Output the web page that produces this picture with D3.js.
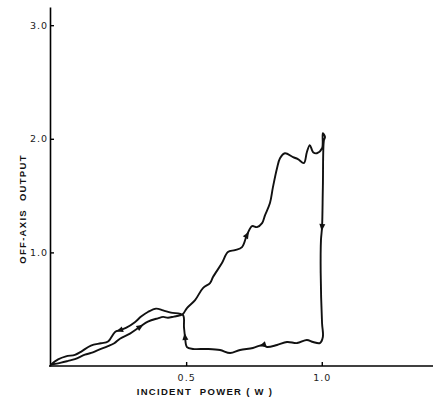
<!DOCTYPE html>
<html>
<head>
<meta charset="utf-8">
<script src="https://cdn.jsdelivr.net/npm/d3@7"></script>
<style>
  body { margin: 0; background: #fff; }
  svg { display: block; }
  .tick text { font-family: "DejaVu Sans", sans-serif; font-size: 9.5px; letter-spacing: 1px; fill: #222; }
  .axis-label { font-family: "Liberation Sans", Arial, sans-serif; font-weight: bold; font-size: 9.5px; letter-spacing: 1.3px; fill: #111; }
</style>
</head>
<body>
<div id="chart"></div>
<script>
// incident power (W) / off-axis output, traced along the hysteresis loop
const powerUp = [0, 0.039, 0.065, 0.090, 0.127, 0.150, 0.175, 0.212, 0.235, 0.256, 0.293, 0.330, 0.359, 0.396, 0.415, 0.433, 0.455, 0.477, 0.488];
const outputUp = [0.01, 0.030, 0.045, 0.060, 0.100, 0.115, 0.140, 0.175, 0.200, 0.240, 0.285, 0.345, 0.390, 0.420, 0.432, 0.425, 0.435, 0.445, 0.457];

const powerHigh = [0.503, 0.533, 0.562, 0.588, 0.599, 0.632, 0.654, 0.680, 0.706, 0.724, 0.743, 0.761, 0.780, 0.791, 0.809, 0.820, 0.835, 0.846, 0.864, 0.894, 0.912, 0.934, 0.945, 0.956, 0.968, 0.982, 1.001, 1.004, 1.012];
const outputHigh = [0.510, 0.580, 0.686, 0.730, 0.783, 0.906, 1.003, 1.020, 1.047, 1.152, 1.231, 1.223, 1.258, 1.328, 1.434, 1.574, 1.741, 1.829, 1.873, 1.838, 1.821, 1.786, 1.882, 1.944, 1.882, 1.873, 1.917, 2.049, 2.014];

const powerDown = [1.008, 1.004, 1.001, 0.997, 0.996, 1.001, 1.004, 0.993, 0.968, 0.945, 0.909, 0.872, 0.835, 0.798, 0.783, 0.746, 0.699, 0.662, 0.625, 0.577, 0.525, 0.503, 0.496, 0.492, 0.488];
const outputDown = [1.988, 1.574, 1.223, 1.108, 0.818, 0.378, 0.255, 0.202, 0.211, 0.229, 0.202, 0.211, 0.185, 0.167, 0.185, 0.158, 0.141, 0.114, 0.141, 0.150, 0.150, 0.167, 0.255, 0.343, 0.449];

const powerBack = [0.444, 0.415, 0.389, 0.359, 0.334, 0.311, 0.278, 0.256, 0.238, 0.212, 0.186, 0.149, 0.112, 0.090, 0.057, 0.028, 0];
const outputBack = [0.470, 0.490, 0.505, 0.475, 0.435, 0.385, 0.335, 0.315, 0.300, 0.215, 0.200, 0.180, 0.125, 0.098, 0.085, 0.058, 0.01];

// arrows: index into the full loop where the direction is shown
const arrowIdx = [11, 28, 50, 62, 70, 80];

const xTicks = [0.5, 1.0];
const yTicks = [1.0, 2.0, 3.0];

const W = 433, H = 404;
const svg = d3.select("#chart").append("svg").attr("width", W).attr("height", H);
svg.append("rect").attr("width", W).attr("height", H).attr("fill", "#fff");

const x = d3.scaleLinear().domain([0, 1.41]).range([50.5, 433]);
const y = d3.scaleLinear().domain([0, 3.16]).range([366, 7]);

// put the loop together
const loop = [];
[[powerUp, outputUp], [powerHigh, outputHigh], [powerDown, outputDown], [powerBack, outputBack]]
  .forEach(([px, py]) => px.forEach((p, i) => loop.push([p, py[i]])));

// axes
svg.append("g")
  .attr("transform", `translate(0,${y(0)})`)
  .call(d3.axisBottom(x).tickValues(xTicks).tickSize(-4).tickSizeOuter(0).tickPadding(8).tickFormat(d3.format(".1f")))
  .call(g => g.select(".domain").attr("stroke-width", 1.6).attr("d", `M49,0H${W}`))
  .call(g => g.selectAll(".tick line").attr("stroke-width", 1.4));

svg.append("g")
  .attr("transform", `translate(${x(0) - 0.5},0)`)
  .call(d3.axisLeft(y).tickValues(yTicks).tickSize(-4).tickSizeOuter(0).tickPadding(2).tickFormat(d3.format(".1f")))
  .call(g => g.select(".domain").attr("stroke-width", 1.6))
  .call(g => g.selectAll(".tick line").attr("stroke-width", 1.4));

svg.selectAll(".tick text").attr("fill", "#222");

svg.append("text")
  .attr("class", "axis-label")
  .attr("text-anchor", "middle")
  .attr("x", 205).attr("y", 395)
  .attr("xml:space", "preserve")
  .text("INCIDENT  POWER ( W )");

svg.append("text")
  .attr("class", "axis-label")
  .attr("text-anchor", "middle")
  .attr("transform", "translate(26,209) rotate(-90)")
  .attr("xml:space", "preserve")
  .text("OFF-AXIS  OUTPUT");

// the trace
const line = d3.line().x(d => x(d[0])).y(d => y(d[1])).curve(d3.curveCatmullRom.alpha(0.5));
svg.append("path")
  .datum(loop)
  .attr("d", line)
  .attr("fill", "none")
  .attr("stroke", "#111")
  .attr("stroke-width", 1.9)
  .attr("stroke-linejoin", "round");

// direction arrows
svg.selectAll(".arrow")
  .data(arrowIdx)
  .join("path")
  .attr("class", "arrow")
  .attr("d", "M4,0L-3,-3L-3,3Z")
  .attr("fill", "#111")
  .attr("transform", i => {
    const a = loop[i], b = loop[i + 1];
    const ang = Math.atan2(y(b[1]) - y(a[1]), x(b[0]) - x(a[0])) * 180 / Math.PI;
    return `translate(${x(a[0])},${y(a[1])}) rotate(${ang})`;
  });
</script>
</body>
</html>
